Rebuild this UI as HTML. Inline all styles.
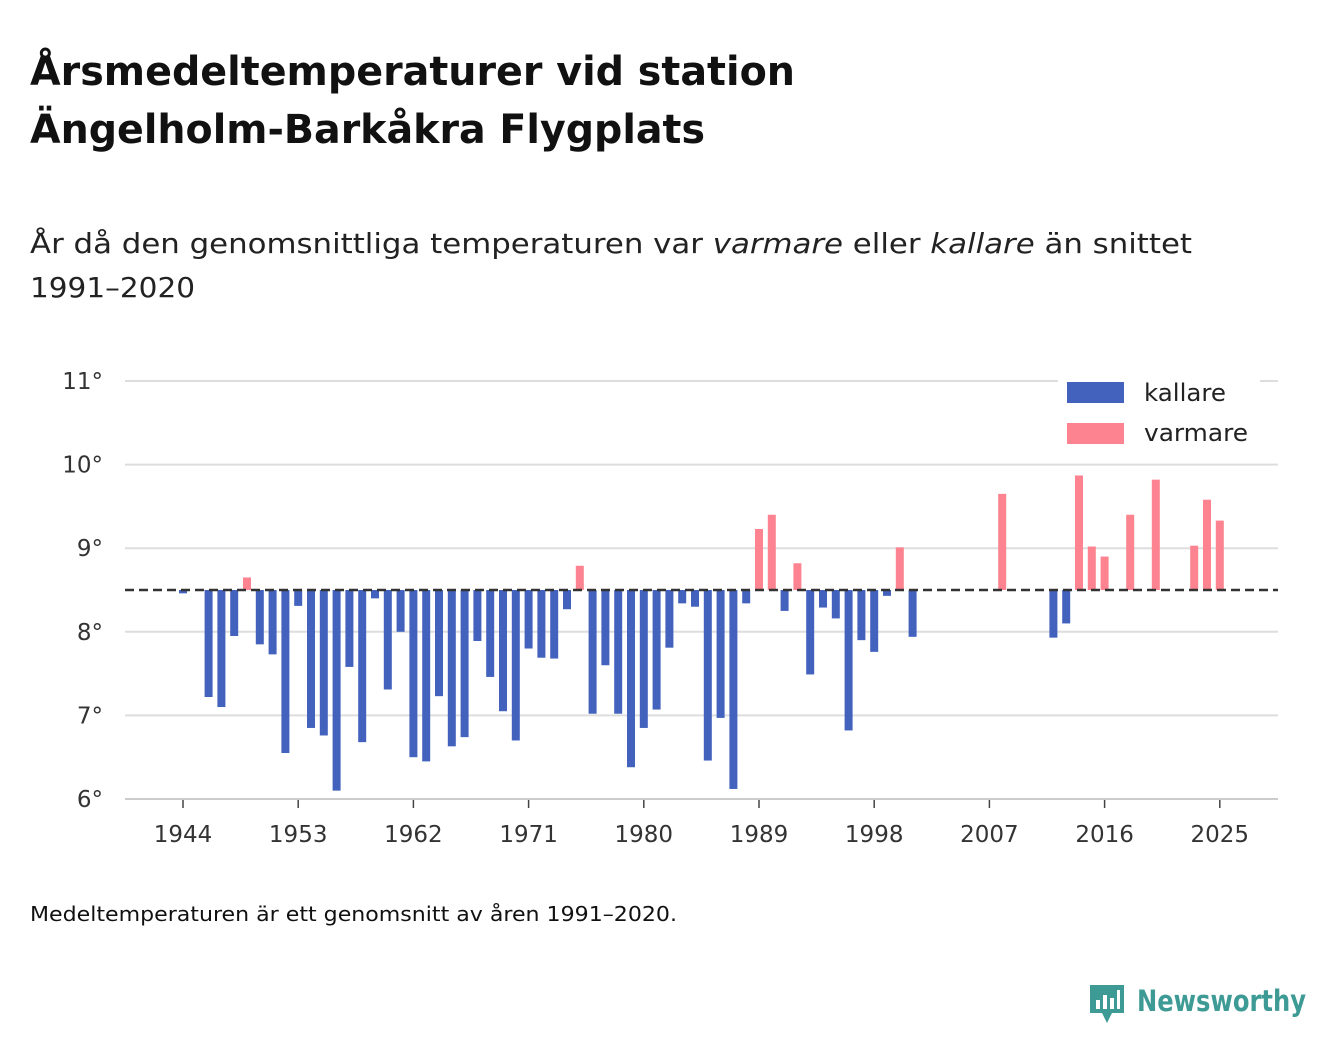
<!DOCTYPE html>
<html><head><meta charset="utf-8"><style>
body{margin:0;background:#fff;width:1340px;height:1056px;overflow:hidden;font-family:"DejaVu Sans","Liberation Sans",sans-serif;color:#111}
</style></head><body>
<svg width="1340" height="1056" xmlns="http://www.w3.org/2000/svg" font-family="DejaVu Sans, Liberation Sans, sans-serif">
<text x="30" y="85" font-size="40" font-weight="bold" fill="#111" textLength="765" lengthAdjust="spacingAndGlyphs">Årsmedeltemperaturer vid station</text>
<text x="30" y="143" font-size="40" font-weight="bold" fill="#111" textLength="675" lengthAdjust="spacingAndGlyphs">Ängelholm-Barkåkra Flygplats</text>
<text x="30" y="253" font-size="28" fill="#222" textLength="1162" lengthAdjust="spacingAndGlyphs">År då den genomsnittliga temperaturen var <tspan font-style="italic">varmare</tspan> eller <tspan font-style="italic">kallare</tspan> än snittet</text>
<text x="30" y="297" font-size="28" fill="#222" textLength="165" lengthAdjust="spacingAndGlyphs">1991–2020</text>
<g id="grid"></g>
<g id="bars"></g>
<g id="axes"></g>
<g>
<rect x="1058" y="372" width="202" height="78" fill="#fff"/>
<rect x="1067" y="382" width="57" height="21" fill="#4262bd"/>
<text x="1144" y="401" font-size="24" fill="#222" textLength="82" lengthAdjust="spacingAndGlyphs">kallare</text>
<rect x="1067" y="423" width="57" height="21" fill="#fe8391"/>
<text x="1144" y="441" font-size="24" fill="#222" textLength="104" lengthAdjust="spacingAndGlyphs">varmare</text>
</g>
<text x="30" y="921" font-size="20" fill="#111" textLength="647" lengthAdjust="spacingAndGlyphs">Medeltemperaturen är ett genomsnitt av åren 1991–2020.</text>
<g>
<path d="M1090 985 h34 v28 h-12 l-5 10 l-5 -10 h-12 z" fill="#3d9a94"/>
<rect x="1096" y="1000" width="4" height="9" fill="#fff"/><rect x="1103" y="995" width="4" height="14" fill="#fff"/><rect x="1110" y="998" width="4" height="11" fill="#fff"/><rect x="1117" y="990" width="3" height="19" fill="#fff"/>
<text x="1137" y="1011" font-size="29" font-weight="bold" fill="#3d9a94" textLength="169" lengthAdjust="spacingAndGlyphs">Newsworthy</text>
</g>
</svg>
<script>
const years=[1944,1946,1947,1948,1949,1950,1951,1952,1953,1954,1955,1956,1957,1958,1959,1960,1961,1962,1963,1964,1965,1966,1967,1968,1969,1970,1971,1972,1973,1974,1975,1976,1977,1978,1979,1980,1981,1982,1983,1984,1985,1986,1987,1988,1989,1990,1991,1992,1993,1994,1995,1996,1997,1998,1999,2000,2001,2008,2012,2013,2014,2015,2016,2018,2020,2023,2024,2025];
const temps=[8.46,7.22,7.10,7.95,8.65,7.85,7.73,6.55,8.31,6.85,6.76,6.10,7.58,6.68,8.40,7.31,8.00,6.50,6.45,7.23,6.63,6.74,7.89,7.46,7.05,6.70,7.80,7.69,7.68,8.27,8.79,7.02,7.60,7.02,6.38,6.85,7.07,7.81,8.34,8.30,6.46,6.97,6.12,8.34,9.23,9.40,8.25,8.82,7.49,8.29,8.16,6.82,7.90,7.76,8.43,9.01,7.94,9.65,7.93,8.10,9.87,9.02,8.90,9.40,9.82,9.03,9.58,9.33];
const yTicks=[6,7,8,9,10,11];
const xTicks=[1944,1953,1962,1971,1980,1989,1998,2007,2016,2025];
const baseline=8.5;
const NS='http://www.w3.org/2000/svg';
const X=y=>183+(y-1944)*12.8;
const Y=v=>799-(v-6)*83.6;
function mk(t,a,p){const e=document.createElementNS(NS,t);for(const k in a)e.setAttribute(k,a[k]);p.appendChild(e);return e;}
const grid=document.getElementById('grid'),bars=document.getElementById('bars'),axes=document.getElementById('axes');
yTicks.forEach(v=>{
  const l=mk('line',{x1:125,x2:1278,y1:Y(v),y2:Y(v),stroke:v===6?'#ccc':'#ddd','stroke-width':2},grid);
  
  
  const t=mk('text',{x:103,y:Y(v)+8,'font-size':23,'text-anchor':'end',fill:'#333'},axes);
  t.textContent=v+'°';
  
  
});
xTicks.forEach(y=>{
  const tk=mk('line',{x1:X(y),x2:X(y),y1:800,y2:808,stroke:'#444','stroke-width':1.5},axes);
  
  
  const t=mk('text',{x:X(y),y:842,'font-size':23,'text-anchor':'middle',fill:'#333'},axes);
  t.textContent=y;
  
  
});
years.forEach((yr,i)=>{
  const v=temps[i],y0=Y(baseline),y1=Y(v);
  const r=mk('rect',{x:X(yr)-4,y:Math.min(y0,y1),width:8,height:Math.abs(y1-y0),fill:v>=baseline?'#fe8391':'#4262bd'},bars);
  
  
});
const bl=mk('line',{x1:125,x2:1278,y1:Y(baseline),y2:Y(baseline),stroke:'#333','stroke-width':2.5,'stroke-dasharray':'9,5'},bars);


</script>
</body></html>
